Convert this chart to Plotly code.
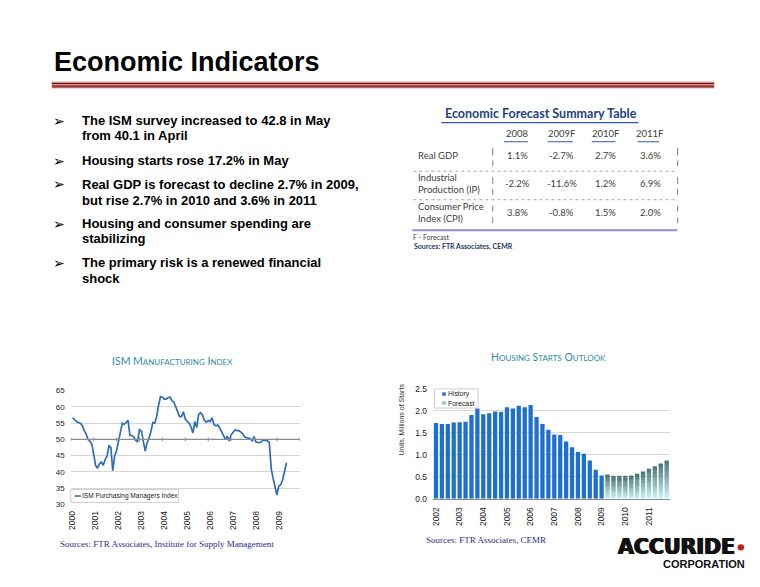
import plotly.graph_objects as go

# page is rendered with an 8px body margin, so the figure is placed at (8, 8)
OFF = 8
W, H = 760 - OFF, 587 - OFF

# ---------------- data ----------------
ism_values = [56.7, 56.0, 55.5, 55.2, 55.0, 54.3, 52.7, 51.8, 50.0, 49.5, 48.6, 45.5,
              42.0, 41.1, 42.5, 43.0, 42.0, 43.8, 44.8, 48.0, 47.5, 40.4, 45.0, 46.5,
              49.5, 53.0, 55.0, 54.6, 55.2, 55.9, 51.2, 51.2, 50.8, 49.7, 49.3, 53.0,
              52.6, 49.0, 46.4, 49.0, 50.4, 52.5, 55.2, 55.0, 57.0, 60.5, 63.2, 63.0,
              62.4, 62.4, 62.9, 63.0, 61.9, 61.5, 60.0, 58.3, 57.0, 57.0, 58.5, 56.2,
              55.7, 55.0, 53.8, 52.0, 55.5, 53.7, 57.7, 58.2, 57.5, 55.9, 55.3, 55.8,
              55.5, 56.7, 54.6, 54.2, 54.4, 53.6, 52.4, 51.3, 50.0, 51.0, 49.5, 51.4,
              52.0, 52.9, 52.7, 52.7, 52.3, 51.8, 50.8, 50.6, 50.4, 50.2, 49.6, 50.9,
              49.2, 49.2, 49.0, 49.4, 49.7, 49.7, 49.6, 49.0, 41.0, 38.0, 35.2, 32.9,
              35.6, 36.1, 37.5, 40.1, 42.8]
ism_years = ["2000", "2001", "2002", "2003", "2004", "2005", "2006", "2007", "2008", "2009"]
ism_name = "ISM Purchasing Managers Index"

housing_history = [1.72, 1.70, 1.70, 1.73, 1.74, 1.75, 1.90, 2.05,
                   1.92, 1.94, 1.98, 1.97, 2.08, 2.05, 2.11, 2.08,
                   2.13, 1.86, 1.70, 1.57, 1.46, 1.45, 1.30, 1.17,
                   1.06, 1.02, 0.87, 0.66, 0.53]
housing_forecast = [0.55, 0.51, 0.51, 0.51, 0.53, 0.57, 0.62, 0.68, 0.74, 0.80, 0.87]
housing_years = ["2002", "2003", "2004", "2005", "2006", "2007", "2008", "2009", "2010", "2011"]

table_cols = ["2008", "2009F", "2010F", "2011F"]
table_rows = [["Real GDP"], ["Industrial", "Production (IP)"], ["Consumer Price", "Index (CPI)"]]
table_values = [["1.1%", "-2.7%", "2.7%", "3.6%"],
                ["-2.2%", "-11.6%", "1.2%", "6.9%"],
                ["3.8%", "-0.8%", "1.5%", "2.0%"]]

bullets = [["The ISM survey increased to 42.8 in May", "from 40.1 in April"],
           ["Housing starts rose 17.2% in May"],
           ["Real GDP is forecast to decline 2.7% in 2009,", "but rise 2.7% in 2010 and 3.6% in 2011"],
           ["Housing and consumer spending are", "stabilizing"],
           ["The primary risk is a renewed financial", "shock"]]

# ---------------- helpers ----------------
ARIAL = "Liberation Sans, Arial, sans-serif"
CAL = "Lato, Carlito, Calibri, sans-serif"
SERIF = "Liberation Serif, Times New Roman, serif"
DL = 3    # vertical nudge for the lower (chart) half
DT = -2   # vertical nudge for the table block

def fx(x):
    return (x - OFF) / W

def fy(y):
    return 1 - (y - OFF) / H

annotations = []
shapes = []

def txt(x, y, s, size, color="#000", family=ARIAL, xanchor="left", weight=None, shadow=None):
    f = dict(size=size, color=color, family=family)
    if weight:
        f["weight"] = weight
    if shadow:
        f["shadow"] = shadow
    annotations.append(dict(x=fx(x), y=fy(y), xref="paper", yref="paper", text=s,
                            showarrow=False, xanchor=xanchor, yanchor="middle",
                            font=f, borderpad=0))

def pline(x0, y0, x1, y1, color, width=1, dash=None):
    ln = dict(color=color, width=width)
    if dash:
        ln["dash"] = dash
    shapes.append(dict(type="line", xref="paper", yref="paper", x0=fx(x0), y0=fy(y0),
                       x1=fx(x1), y1=fy(y1), line=ln))

def prect(x0, y0, x1, y1, fill, line_color=None, lw=0):
    shapes.append(dict(type="rect", xref="paper", yref="paper", x0=fx(x0), y0=fy(y1),
                       x1=fx(x1), y1=fy(y0), fillcolor=fill,
                       line=dict(color=line_color or fill, width=lw)))

fig = go.Figure()

# ---------------- ISM chart ----------------
n_ism = len(ism_values)
fig.add_trace(go.Scatter(x=list(range(n_ism)), y=ism_values, mode="lines",
                         line=dict(color="#2F6DB5", width=1.7), name=ism_name,
                         showlegend=False, xaxis="x", yaxis="y"))
year_pos = [12 * i for i in range(len(ism_years))]
shapes.append(dict(type="line", xref="x", yref="y", x0=-1, x1=119, y0=50, y1=50,
                   line=dict(color="#8c8c8c", width=1.2), layer="above"))
for i in range(len(ism_years) + 1):
    shapes.append(dict(type="line", xref="x", yref="y", x0=12 * i - 1, x1=12 * i - 1,
                       y0=49.4, y1=50.6, line=dict(color="#8c8c8c", width=1)))

# ---------------- Housing chart ----------------
n_hist = len(housing_history)
fig.add_trace(go.Bar(x=list(range(n_hist)), y=housing_history, width=0.72,
                     marker=dict(color="#1E6FD2", line=dict(width=0)),
                     name="History", showlegend=False, xaxis="x2", yaxis="y2"))

N = 18
top_c = (78, 118, 122)
bot_c = (200, 244, 246)
fx_list, fb_list, fy_list, fc_list = [], [], [], []
for i, v in enumerate(housing_forecast):
    for k in range(N):
        t = k / (N - 1)
        c = tuple(int(bot_c[j] + (top_c[j] - bot_c[j]) * t) for j in range(3))
        fx_list.append(n_hist + i)
        fb_list.append(v * k / N)
        h = v / N if k == N - 1 else v / N * 1.25
        fy_list.append(h)
        fc_list.append("rgb(%d,%d,%d)" % c)
fig.add_trace(go.Bar(x=fx_list, y=fy_list, base=fb_list, width=0.72,
                     marker=dict(color=fc_list, line=dict(width=0)),
                     name="Forecast", showlegend=False, xaxis="x2", yaxis="y2"))

# ---------------- layout ----------------
fig.update_layout(
    width=W, height=H, margin=dict(l=0, r=0, t=0, b=0),
    paper_bgcolor="white", plot_bgcolor="white", barmode="overlay",
    showlegend=False,
    xaxis=dict(domain=[fx(68), fx(298)], range=[-1, 119], tickvals=year_pos,
               ticktext=ism_years, tickangle=-90, showgrid=False, zeroline=False,
               showline=False, ticks="", ticklabelstandoff=4,
               tickfont=dict(size=8.5, family=ARIAL, color="#222"),
               anchor="y", fixedrange=True),
    yaxis=dict(domain=[fy(505 + DL), fy(389.3 + DL)], range=[30, 65],
               tickvals=[30, 35, 40, 45, 50, 55, 60, 65],
               showgrid=True, gridcolor="#d6d6d6", gridwidth=1, zeroline=False, showline=False,
               ticks="", ticklabelstandoff=5, tickfont=dict(size=8, family=ARIAL, color="#222"),
               anchor="x", fixedrange=True),
    xaxis2=dict(domain=[fx(431.7), fx(669.3)], range=[-0.5, 39.5],
                tickvals=[4 * i for i in range(len(housing_years))], ticktext=housing_years,
                tickangle=-90, showgrid=False, zeroline=False, showline=True,
                linecolor="#8c8c8c", linewidth=1, ticks="", ticklabelstandoff=4,
                tickfont=dict(size=8.5, family=ARIAL, color="#222"), anchor="y2", fixedrange=True),
    yaxis2=dict(domain=[fy(499.3 + DL), fy(387.3 + DL)], range=[0, 2.5], dtick=0.5, tickformat=".1f",
                showgrid=True, gridcolor="#d6d6d6", gridwidth=1, zeroline=False, showline=False,
                ticks="", ticklabelstandoff=5, tickfont=dict(size=8.5, family=ARIAL, color="#222"),
                anchor="x2", fixedrange=True),
)

# ---------------- slide title ----------------
txt(50, 58, "<b>Economic Indicators</b>", 27, "#000")
prect(49, 78, 714, 84.5, "#b86a6a")
pline(49, 78.3, 714, 78.3, "#e4bcbc", 0.8)
pline(49, 79.8, 714, 79.8, "#7e1414", 1.3)
pline(49, 81.2, 714, 81.2, "#e8c4c4", 0.9)
pline(49, 82.4, 714, 82.4, "#8e2020", 1.2)

# ---------------- bullets ----------------
line_y = [[118.7, 133.7], [159.3], [183.3, 199.3], [223.3, 238.3], [263.3, 279.3]]
for b, ys in zip(bullets, line_y):
    txt(49, ys[0] - 1, "➢", 14, "#000", "DejaVu Sans")
    for s, yy in zip(b, ys):
        txt(78, yy - 1, "<b>" + s + "</b>", 13, "#000")

# ---------------- table ----------------
txt(540, 112 + DT, "<b>Economic Forecast Summary Table</b>", 12.5, "#1F3F85", CAL, "center")
pline(440, 119.5, 638, 119.5, "#3355bb", 1.2)
col_x = [517, 561, 605, 650]
ul = [(503, 527), (547, 572), (591, 615), (637, 659)]
for c, cx, (u0, u1) in zip(table_cols, col_x, ul):
    txt(cx, 132.5 + DT, c, 9.5, "#404040", CAL, "center")
    pline(u0, 139, u1, 139, "#3355bb", 1)
row_label_y = [[155], [177, 190], [207, 219]]
row_val_y = [155, 184, 213]
bar_segs = [[(145, 153), (158, 164)], [(175, 182), (187, 193)], [(204, 210), (216, 222)]]
for lbls, lys, vy, vals, segs in zip(table_rows, row_label_y, row_val_y, table_values, bar_segs):
    for l, ly in zip(lbls, lys):
        txt(416, ly + DT, l, 9.5, "#404040", CAL)
    for v, cx in zip(vals, col_x):
        txt(cx, vy + DT, v, 9.5, "#404040", CAL, "center")
    for (s0, s1) in segs:
        pline(491.7, s0, 491.7, s1, "#7f7f7f", 1)
        pline(677.3, s0, 677.3, s1, "#7f7f7f", 1)
pline(412, 169, 677, 169, "#a8a8a8", 1, "dot")
pline(412, 198, 677, 198, "#a8a8a8", 1, "dot")
pline(411, 229, 677, 229, "#8e8ed2", 2)
txt(411, 237.5 + DT, "F - Forecast", 7, "#404040", CAL)
txt(412, 248 + DT, "<b>Sources: FTR Associates, CEMR</b>", 7, "#1F3864", CAL)

# ---------------- chart titles ----------------
SC = "<span style='font-size:8px'>%s</span>"
txt(170, 362, "ISM M" + SC % "ANUFACTURING" + " I" + SC % "NDEX", 10.5, "#2F8AA6", CAL, "center")
txt(548, 358, "H" + SC % "OUSING" + " S" + SC % "TARTS" + " O" + SC % "UTLOOK", 10.5, "#2F8AA6", CAL, "center")

# ---------------- ISM legend ----------------
LY = 4
prect(68, 489 + LY, 176, 502 + LY, "white", "#c0c0c0", 0.8)
pline(72, 495.5 + LY, 78, 495.5 + LY, "#2F6DB5", 1.6)
txt(78.5, 495.5 + LY, ism_name, 6.6, "#222", ARIAL)

# ---------------- Housing legend ----------------
HL = 3
prect(433, 387.5 + HL, 477, 407 + HL, "white", "#c0c0c0", 0.8)
prect(441, 391 + HL, 444.5, 394.5 + HL, "#1E6FD2")
prect(441, 400 + HL, 444.5, 403.5 + HL, "#8cc6c8")
txt(446, 393 + HL, "History", 6.8, "#222", ARIAL)
txt(446, 402 + HL, "Forecast", 6.8, "#222", ARIAL)
annotations.append(dict(x=fx(400), y=fy(418 + DL), xref="paper", yref="paper",
                        text="Units, Millions of Starts", showarrow=False, textangle=-90,
                        xanchor="center", yanchor="middle",
                        font=dict(size=7, color="#333", family=ARIAL)))

# ---------------- sources ----------------
txt(56, 548, "Sources: FTR Associates, Institute for Supply Management", 9, "#2a2a8a", SERIF)
txt(424, 544, "Sources: FTR Associates, CEMR", 9, "#2a2a8a", SERIF)

# ---------------- logo ----------------
txt(616, 551, "ACCURIDE", 20.5, "#111", "DejaVu Sans", weight=700,
    shadow="0.8px 0 0 #111, -0.8px 0 0 #111, 0 0.4px 0 #111")
shapes.append(dict(type="circle", xref="paper", yref="paper", x0=fx(737.5), x1=fx(744),
                   y0=fy(555), y1=fy(548.5), fillcolor="#c8201e", line=dict(width=0)))
txt(662, 568.5, "CORPORATION", 11, "#111", ARIAL, weight=700)

fig.update_layout(annotations=annotations, shapes=shapes)
fig.write_html("out.html")
